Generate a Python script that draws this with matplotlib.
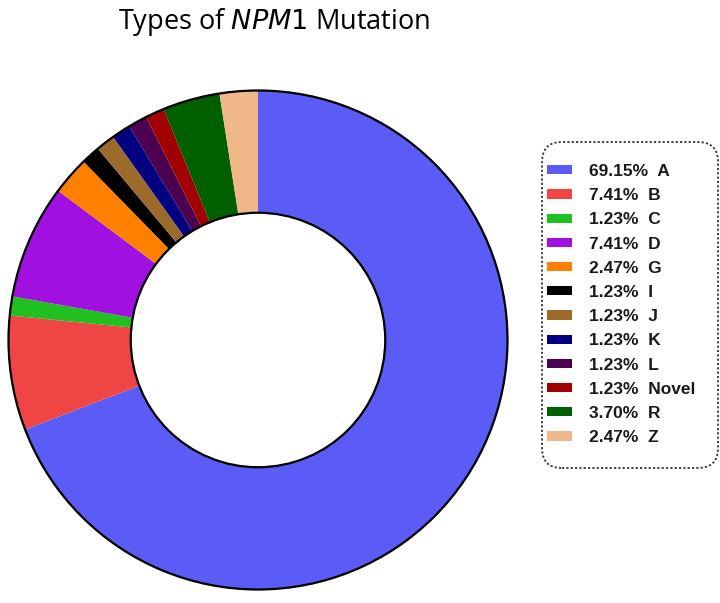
import matplotlib.pyplot as plt
from matplotlib.patches import Circle, Patch, FancyBboxPatch

types = ['A', 'B', 'C', 'D', 'G', 'I', 'J', 'K', 'L', 'Novel', 'R', 'Z']
pct = [69.15, 7.41, 1.23, 7.41, 2.47, 1.23, 1.23, 1.23, 1.23, 1.23, 3.70, 2.47]
colors = ['#5b5bf5', '#f04545', '#1fc01f', '#a010e0', '#ff8000', '#000000',
          '#9c6a2a', '#000080', '#4b0050', '#a00000', '#006000', '#f0b888']

fig = plt.figure(figsize=(7.2, 6.03), dpi=100)

# pie axes: centre ~ (258, 340) px, radius ~ 252 px
cx, cy, r = 258, 340, 252
ax = fig.add_axes([(cx - r) / 720, (603 - cy - r) / 603, 2 * r / 720, 2 * r / 603])
ax.pie(pct, colors=colors, startangle=90, counterclock=False, radius=1,
       wedgeprops=dict(width=0.49, edgecolor='none'))
ax.add_patch(Circle((0, 0), 1, fill=False, lw=1.6, ec='black'))
ax.add_patch(Circle((0, 0), 0.51, fill=False, lw=1.6, ec='black'))
ax.set_xlim(-1.01, 1.01)
ax.set_ylim(-1.01, 1.01)
ax.set_aspect('equal')
ax.axis('off')

fig.text(274 / 720, 1 - 22 / 603, 'Types of $\\it{NPM1}$ Mutation', ha='center', va='center',
         fontsize=19.5, family='Open Sans')

# dotted rounded frame around the legend (inches)
box = FancyBboxPatch((5.42, 1.35), 1.76, 3.26, boxstyle='round,pad=0,rounding_size=0.2',
                     transform=fig.dpi_scale_trans, fill=False, ec='#333333', lw=1.3,
                     ls=(0, (1.2, 1.2)))
fig.add_artist(box)

handles = [Patch(facecolor=c, edgecolor='none') for c in colors]
labels = [f'{p:.2f}%  {t}' for p, t in zip(pct, types)]
leg = fig.legend(handles, labels, loc='upper left', bbox_to_anchor=(547 / 720, 1 - 164 / 603),
                 frameon=False, prop=dict(family='Liberation Sans', size=12.5, weight='bold'),
                 handlelength=1.45, handleheight=0.45, labelspacing=0.53, handletextpad=0.95,
                 borderpad=0, borderaxespad=0)
for t in leg.get_texts():
    t.set_color('#1a1a1a')

fig.savefig('out.png', dpi=100)
